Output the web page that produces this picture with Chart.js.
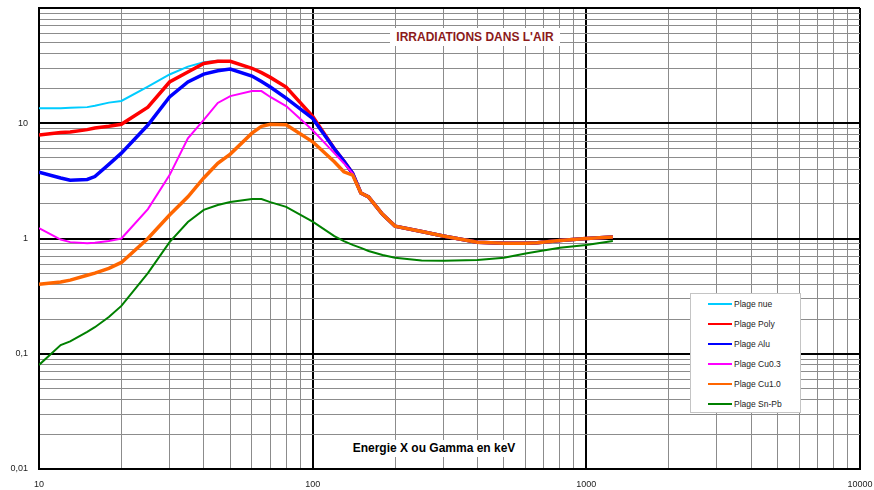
<!DOCTYPE html>
<html>
<head>
<meta charset="utf-8">
<script src="https://cdn.jsdelivr.net/npm/chart.js@4"></script>
<style>
  html, body { margin: 0; padding: 0; background: #fff; }
  #wrap { position: relative; width: 874px; height: 490px; font-family: "Liberation Sans", Arial, sans-serif; }
  #chart { position: absolute; left: 0; top: 0; }
  .box { position: absolute; background: #fff; font-weight: bold; font-size: 12px; text-align: center; white-space: nowrap; }
  #title { left: 390px; top: 28px; width: 170px; height: 18px; line-height: 18px; color: #8b1a1a; }
  #xlabel { left: 347px; top: 440px; width: 174px; height: 17px; line-height: 17px; color: #000; }
  #legend { position: absolute; left: 690px; top: 293px; width: 109px; height: 118px; background: #fff; border: 1px solid #c4c4c4; }
  .row { position: absolute; left: 0; height: 12px; font-size: 8.5px; color: #222; }
  .row i { position: absolute; left: 17px; top: 5px; width: 24px; height: 2px; }
  .row span { position: absolute; left: 43px; top: 0; line-height: 12px; }
</style>
</head>
<body>
<div id="wrap">
  <canvas id="chart" width="874" height="490"></canvas>
  <div class="box" id="title">IRRADIATIONS DANS L'AIR</div>
  <div class="box" id="xlabel">Energie X ou Gamma en keV</div>
  <div id="legend"></div>
</div>
<script>
// energies in keV
const energies = [10, 12, 13, 15, 16, 18, 20, 25, 30, 35, 40, 45, 50, 60, 65, 70, 80, 100,
  120, 130, 140, 150, 160, 180, 200, 250, 300, 400, 500, 600, 662, 800, 1000, 1250];

const plageNue = [13.5, 13.5, 13.6, 13.8, 14.2, 15.1, 15.6, 20.8, 26.5, 31, 33.8, 34.8, 34.5, 30, 27.5, 25, 20.6, 11.5,
  6.0, 4.7, 3.67, 2.48, 2.3, 1.62, 1.28, 1.15, 1.05, 0.93, 0.91, 0.91, 0.92, 0.96, 1.0, 1.03];
const plagePoly = [7.9, 8.3, 8.4, 8.8, 9.1, 9.4, 9.8, 13.8, 22.8, 27.8, 33, 34.5, 34.5, 30, 27.5, 25, 20.6, 11.5,
  6.0, 4.7, 3.67, 2.48, 2.3, 1.62, 1.28, 1.15, 1.05, 0.93, 0.91, 0.91, 0.92, 0.96, 1.0, 1.03];
const plageAlu = [3.77, 3.35, 3.2, 3.25, 3.45, 4.4, 5.5, 9.65, 16.9, 22.8, 26.7, 28.5, 29.5, 25.7, 23, 20.6, 16.5, 11.0,
  6.0, 4.7, 3.67, 2.48, 2.3, 1.62, 1.28, 1.15, 1.05, 0.93, 0.91, 0.91, 0.92, 0.96, 1.0, 1.03];
const plageCu03 = [1.23, 0.98, 0.93, 0.91, 0.92, 0.95, 1.0, 1.8, 3.55, 7.4, 10.7, 15, 17.2, 19, 19, 16.9, 14.1, 8.7,
  5.5, 4.5, 3.67, 2.48, 2.3, 1.62, 1.28, 1.15, 1.05, 0.93, 0.91, 0.91, 0.92, 0.96, 1.0, 1.03];
const plageCu10 = [0.40, 0.42, 0.435, 0.48, 0.50, 0.55, 0.62, 1.0, 1.6, 2.3, 3.35, 4.5, 5.4, 8.2, 9.4, 9.8, 9.7, 6.9,
  4.63, 3.79, 3.55, 2.48, 2.3, 1.62, 1.28, 1.15, 1.05, 0.93, 0.91, 0.91, 0.92, 0.96, 1.0, 1.03];
const plageSnPb = [0.08, 0.119, 0.128, 0.155, 0.17, 0.208, 0.26, 0.5, 0.93, 1.39, 1.77, 1.95, 2.07, 2.2, 2.2, 2.07, 1.88, 1.4,
  1.05, 0.95, 0.88, 0.83, 0.78, 0.72, 0.68, 0.645, 0.64, 0.65, 0.68, 0.74, 0.77, 0.83, 0.88, 0.95];

const seriesLabels = ["Plage nue", "Plage Poly", "Plage Alu", "Plage Cu0.3", "Plage Cu1.0", "Plage Sn-Pb"];
const seriesValues = [plageNue, plagePoly, plageAlu, plageCu03, plageCu10, plageSnPb];
const seriesColors = ["#00ccff", "#ff0000", "#0000ff", "#ff00ff", "#ff6600", "#008000"];
const seriesWidths = [2, 3.5, 3.5, 2, 3.5, 2];

const xMajor = [10, 100, 1000, 10000];
const xTickLabels = ["10", "100", "1000", "10000"];
const yMajor = [0.01, 0.1, 1, 10, 100];
const yTickLabels = ["0,01", "0,1", "1", "10", ""];

const isMajor = function (v) {
  const l = Math.log10(v);
  return Math.abs(l - Math.round(l)) < 1e-6;
};

// grid positions: 1..9 in every decade
const decadeTicks = function (majors) {
  const out = [];
  for (let i = 0; i < majors.length - 1; i++) {
    for (let k = 1; k < 10; k++) {
      out.push({ value: Number((k * majors[i]).toPrecision(6)) });
    }
  }
  out.push({ value: majors[majors.length - 1] });
  return out;
};

const labelFor = function (majors, labels, v) {
  for (let i = 0; i < majors.length; i++) {
    if (Math.abs(majors[i] - v) / majors[i] < 1e-6) return labels[i];
  }
  return "";
};

const gridColor = (ctx) => (ctx.tick && isMajor(ctx.tick.value) ? "#000" : "#8c8c8c");
const gridWidth = (ctx) => (ctx.tick && isMajor(ctx.tick.value) ? 2 : 1);

Chart.defaults.font.family = "'Liberation Sans', Arial, sans-serif";
Chart.defaults.color = "#222";

new Chart(document.getElementById("chart"), {
  type: "line",
  data: {
    datasets: seriesLabels.map((label, i) => ({
      label: label,
      data: energies.map((e, j) => ({ x: e, y: seriesValues[i][j] })),
      borderColor: seriesColors[i],
      backgroundColor: seriesColors[i],
      borderWidth: seriesWidths[i],
      pointRadius: 0,
      tension: 0,
      fill: false,
      order: seriesLabels.length - i,
    })),
  },
  options: {
    responsive: false,
    animation: false,
    devicePixelRatio: 1,
    layout: { padding: { top: 8, right: 14, left: 0, bottom: 0 } },
    plugins: {
      legend: { display: false },
      tooltip: { enabled: false },
    },
    scales: {
      x: {
        type: "logarithmic",
        min: 10,
        max: 10000,
        afterBuildTicks: (axis) => { axis.ticks = decadeTicks(xMajor); },
        afterFit: (axis) => { axis.height = 21; },
        ticks: {
          autoSkip: false,
          maxRotation: 0,
          padding: 0,
          font: { size: 9 },
          callback: (v) => labelFor(xMajor, xTickLabels, v),
        },
        grid: { color: gridColor, lineWidth: gridWidth, drawTicks: true, tickLength: 10, tickColor: "rgba(0,0,0,0)" },
        border: { display: true, color: "#000", width: 2 },
      },
      y: {
        type: "logarithmic",
        min: 0.01,
        max: 100,
        afterBuildTicks: (axis) => { axis.ticks = decadeTicks(yMajor); },
        afterFit: (axis) => { axis.width = 39; },
        ticks: {
          autoSkip: false,
          padding: 0,
          font: { size: 9 },
          callback: (v) => labelFor(yMajor, yTickLabels, v),
        },
        grid: { color: gridColor, lineWidth: gridWidth, drawTicks: true, tickLength: 11, tickColor: "rgba(0,0,0,0)" },
        border: { display: true, color: "#000", width: 2 },
      },
    },
  },
});

// legend inside the plot, same order as the series
const legend = document.getElementById("legend");
seriesLabels.forEach((label, i) => {
  const row = document.createElement("div");
  row.className = "row";
  row.style.top = (4 + i * 20) + "px";
  row.style.width = "109px";
  row.innerHTML = '<i style="background:' + seriesColors[i] + '"></i><span>' + label + "</span>";
  legend.appendChild(row);
});
</script>
</body>
</html>
